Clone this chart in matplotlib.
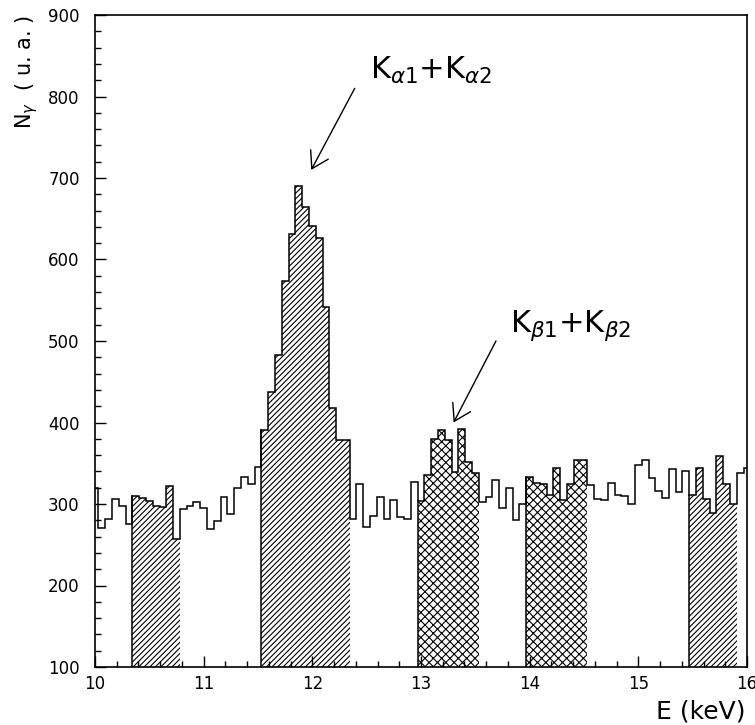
import matplotlib.pyplot as plt
import numpy as np

# X-ray spectrum, one bin every 1/16 keV, bin centres from 10.0 to 16.0 keV
e_first = 10.0
e_step = 0.0625
counts = [320, 270, 282, 306, 298, 276, 310, 307, 304, 298,
          296, 322, 257, 294, 297, 302, 295, 269, 279, 309,
          288, 320, 333, 324, 345, 391, 438, 483, 574, 631,
          690, 664, 641, 626, 542, 418, 378, 378, 282, 324,
          272, 285, 309, 282, 305, 284, 282, 327, 304, 335,
          380, 391, 378, 339, 392, 352, 338, 302, 309, 329,
          295, 320, 280, 300, 333, 326, 325, 311, 344, 305,
          325, 354, 354, 323, 306, 305, 326, 311, 310, 300,
          348, 354, 332, 316, 307, 343, 315, 340, 311, 344,
          306, 289, 359, 325, 300, 338, 344]

# (first bin, last bin) of the shaded windows
single_hatch = [(6, 12), (25, 37), (88, 94)]
cross_hatch = [(48, 56), (64, 72)]

# peak labels: text, text position, arrow start, arrow tip
peak_labels = [r'K$_{\alpha1}$+K$_{\alpha2}$', r'K$_{\beta1}$+K$_{\beta2}$']
label_pos = [(12.53, 821), (13.82, 511)]
arrow_from = [(12.39, 810), (13.69, 500)]
arrow_to = [(11.99, 710), (13.30, 400)]

counts = np.array(counts)
edges = e_first - e_step / 2 + e_step * np.arange(len(counts) + 1)

plt.rcParams['hatch.linewidth'] = 0.8

fig = plt.figure(figsize=(7.55, 7.25), dpi=100)
ax = fig.add_axes([95 / 755, 1 - 667 / 725, 652 / 755, 652 / 725])

def shade(first, last, pattern):
    x = edges[first:last + 2]
    y = np.append(counts[first:last + 1], counts[last])
    ax.fill_between(x, y, 100, step='post', facecolor='none',
                    edgecolor='black', hatch=pattern, linewidth=0)
    ax.plot([x[0], x[0]], [100, y[0]], color='black', lw=1.1)

for a, b in single_hatch:
    shade(a, b, '//////')
for a, b in cross_hatch:
    shade(a, b, 'xxxx')

ax.stairs(counts, edges, baseline=None, color='black', lw=1.1)

ax.set_xlim(10, 16)
ax.set_ylim(100, 900)
ax.set_xticks(np.arange(10, 17, 1))
ax.set_xticks(np.arange(10, 16.01, 0.2), minor=True)
ax.set_yticks(np.arange(100, 901, 100))
ax.set_yticks(np.arange(100, 901, 20), minor=True)
ax.tick_params(which='both', direction='in', top=False, right=False, width=1)
ax.tick_params(which='major', length=8, labelsize=12)
ax.tick_params(which='minor', length=4.5)
ax.tick_params(axis='x', pad=6)
ax.tick_params(axis='y', pad=11)
for s in ax.spines.values():
    s.set_linewidth(1.2)

for txt, pos, p0, p1 in zip(peak_labels, label_pos, arrow_from, arrow_to):
    ax.text(pos[0], pos[1], txt, fontsize=22, ha='left', va='baseline')
    ax.annotate('', xy=p1, xytext=p0,
                arrowprops=dict(arrowstyle='->,head_length=1.16,head_width=0.72',
                                mutation_scale=10, lw=1, color='black',
                                shrinkA=0, shrinkB=0))

fig.text(27 / 755, 1 - 15 / 725, r'N$_{\gamma}$  ( u. a. )', rotation=90,
         ha='center', va='top', fontsize=15)
fig.text(745 / 755, 1 - 718 / 725, 'E (keV)', ha='right', va='baseline',
         fontsize=18)

fig.savefig('out.png', dpi=100)
